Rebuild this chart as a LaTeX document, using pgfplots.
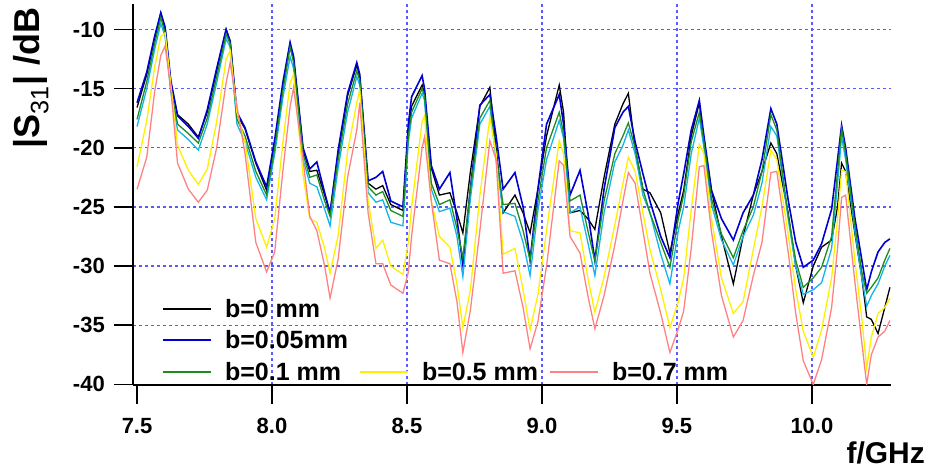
\documentclass[border=0pt]{standalone}
\usepackage{fontspec}
\setmainfont{Liberation Sans}
\usepackage{pgfplots}
\pgfplotsset{compat=1.18}
\usepackage{pgfplotstable}
\definecolor{colK}{RGB}{0,0,0}
\definecolor{colB}{RGB}{0,0,210}
\definecolor{colG}{RGB}{30,140,30}
\definecolor{colC}{RGB}{20,180,235}
\definecolor{colY}{RGB}{255,240,0}
\definecolor{colP}{RGB}{255,130,130}
\definecolor{gridc}{RGB}{90,90,255}
\pgfplotstableread{
f K B G C Y P
7.500 -16.6 -16.2 -17.6 -18.2 -21.6 -23.5
7.536 -13.8 -13.6 -14.4 -15.0 -17.7 -20.8
7.565 -10.8 -10.6 -11.2 -11.7 -13.2 -15.3
7.588 -8.6 -8.6 -9.0 -9.5 -10.6 -12.2
7.604 -10.0 -9.8 -10.3 -10.6 -10.3 -11.4
7.625 -14.5 -14.3 -15.0 -15.3 -14.6 -15.0
7.650 -17.2 -17.3 -18.0 -18.5 -19.8 -21.3
7.690 -18.0 -18.2 -18.8 -19.3 -21.9 -23.5
7.727 -19.1 -19.2 -19.6 -20.2 -23.1 -24.6
7.760 -17.0 -16.8 -17.5 -18.0 -21.8 -23.6
7.795 -13.5 -13.3 -14.0 -14.5 -17.8 -20.0
7.830 -10.0 -10.0 -10.4 -10.8 -12.5 -14.5
7.845 -11.0 -11.0 -11.2 -11.5 -11.8 -12.8
7.870 -17.2 -17.0 -17.6 -18.0 -17.0 -16.5
7.900 -18.4 -18.3 -19.0 -19.5 -19.5 -20.5
7.940 -21.3 -21.2 -22.0 -22.5 -26.0 -28.0
7.980 -23.6 -23.3 -24.0 -24.4 -28.4 -30.5
8.010 -19.5 -19.3 -20.0 -20.5 -26.0 -28.8
8.040 -14.8 -14.5 -15.2 -15.8 -19.6 -22.0
8.067 -11.2 -11.1 -11.5 -12.3 -14.5 -16.5
8.080 -12.5 -12.3 -12.8 -13.3 -13.8 -14.9
8.115 -20.2 -20.0 -20.5 -21.0 -22.3 -21.0
8.140 -22.0 -21.8 -22.5 -23.0 -26.0 -25.8
8.166 -21.9 -21.2 -22.3 -23.3 -26.3 -27.0
8.195 -24.0 -23.8 -24.5 -25.2 -28.5 -30.0
8.215 -25.5 -25.5 -25.8 -26.6 -30.6 -32.7
8.245 -20.5 -20.2 -21.0 -21.7 -27.4 -29.4
8.280 -15.6 -15.4 -16.3 -17.0 -20.3 -22.5
8.314 -13.0 -12.8 -13.5 -14.0 -16.2 -18.5
8.325 -14.0 -13.8 -14.3 -14.7 -15.1 -16.2
8.356 -23.0 -22.8 -23.3 -23.8 -24.5 -25.5
8.385 -23.5 -22.5 -24.0 -24.6 -28.5 -29.8
8.410 -23.2 -22.0 -23.7 -24.4 -27.8 -29.8
8.440 -24.8 -24.5 -25.3 -26.3 -30.0 -31.6
8.485 -25.3 -25.0 -25.8 -26.6 -30.7 -32.3
8.505 -18.5 -18.0 -19.0 -19.5 -28.0 -30.5
8.517 -16.5 -15.7 -17.0 -17.5 -25.0 -27.5
8.556 -14.7 -13.9 -15.0 -15.4 -17.8 -20.0
8.565 -15.5 -15.0 -15.6 -16.0 -17.3 -19.1
8.590 -21.7 -21.5 -23.0 -23.5 -24.5 -24.5
8.620 -24.0 -23.5 -24.8 -25.4 -27.5 -29.5
8.659 -23.8 -22.1 -24.4 -25.1 -28.4 -29.8
8.685 -25.5 -26.0 -26.8 -27.5 -31.5 -33.0
8.707 -27.2 -29.9 -29.3 -30.9 -35.2 -37.3
8.735 -22.0 -23.4 -23.5 -24.3 -32.0 -33.7
8.770 -16.5 -16.4 -17.5 -18.0 -24.0 -27.0
8.807 -14.9 -15.5 -16.0 -16.5 -17.4 -19.4
8.830 -20.0 -19.0 -20.5 -21.0 -20.5 -21.0
8.856 -25.5 -23.5 -24.8 -25.4 -29.0 -30.6
8.900 -24.0 -22.1 -24.7 -25.8 -28.5 -30.4
8.930 -25.5 -25.0 -27.0 -28.0 -32.0 -33.5
8.956 -27.2 -29.5 -29.5 -30.8 -35.4 -37.0
8.985 -23.5 -23.5 -24.5 -25.3 -32.4 -34.7
9.017 -19.0 -18.0 -20.0 -21.0 -27.0 -30.0
9.064 -14.7 -15.5 -17.0 -17.7 -19.4 -21.1
9.080 -17.0 -18.0 -18.8 -19.2 -20.5 -21.5
9.104 -25.5 -24.0 -24.5 -25.5 -27.0 -27.5
9.141 -25.3 -21.9 -24.0 -25.0 -27.2 -28.9
9.170 -26.0 -25.5 -27.0 -28.0 -31.0 -32.5
9.196 -26.9 -29.5 -29.6 -30.8 -33.9 -35.3
9.230 -22.5 -23.5 -24.5 -25.5 -30.9 -32.5
9.270 -18.0 -18.3 -20.5 -21.2 -26.5 -28.2
9.300 -16.3 -17.0 -19.0 -19.8 -23.0 -24.5
9.320 -15.4 -16.5 -17.9 -18.5 -20.8 -22.1
9.345 -20.0 -19.5 -20.0 -20.5 -22.0 -23.0
9.374 -23.5 -22.2 -23.5 -24.0 -25.5 -27.0
9.400 -23.8 -24.5 -25.5 -25.5 -28.6 -30.6
9.440 -25.5 -27.5 -28.0 -29.0 -32.0 -34.0
9.474 -28.9 -29.3 -30.1 -31.5 -35.2 -37.3
9.505 -25.5 -24.6 -26.0 -27.0 -33.0 -35.3
9.525 -23.6 -22.2 -24.0 -25.0 -31.0 -33.8
9.553 -19.0 -18.5 -19.5 -20.5 -25.2 -28.5
9.583 -16.2 -16.0 -17.0 -17.5 -19.7 -21.6
9.600 -19.5 -19.0 -19.5 -20.0 -20.5 -21.5
9.628 -23.6 -23.6 -24.3 -24.8 -26.0 -27.1
9.665 -27.5 -26.0 -27.3 -27.8 -31.0 -32.5
9.709 -31.5 -27.8 -29.3 -29.9 -34.0 -36.0
9.745 -27.5 -25.5 -27.0 -27.5 -33.0 -34.6
9.783 -24.0 -24.0 -25.0 -25.7 -28.6 -30.8
9.815 -22.0 -21.0 -22.0 -23.0 -25.0 -28.0
9.848 -19.6 -16.7 -17.2 -18.2 -20.2 -22.1
9.870 -20.5 -18.0 -18.5 -19.0 -21.0 -22.0
9.912 -25.5 -24.4 -25.7 -26.0 -27.3 -28.8
9.940 -30.0 -28.0 -29.5 -30.0 -32.0 -34.0
9.968 -33.1 -30.1 -31.8 -32.4 -35.5 -38.0
10.005 -30.0 -29.5 -31.0 -32.0 -37.7 -40.0
10.036 -28.4 -28.1 -30.1 -31.4 -35.4 -37.9
10.073 -27.8 -25.2 -27.5 -28.5 -31.0 -33.5
10.095 -25.0 -21.0 -22.0 -23.0 -26.0 -28.5
10.110 -21.3 -18.1 -18.4 -19.1 -21.9 -24.2
10.125 -22.0 -20.0 -20.5 -21.0 -22.0 -24.0
10.159 -27.2 -25.9 -26.5 -27.0 -29.5 -31.3
10.185 -31.0 -29.5 -30.5 -31.0 -34.5 -36.5
10.203 -34.3 -32.0 -32.3 -33.4 -38.6 -40.0
10.220 -34.5 -30.5 -31.8 -32.5 -36.0 -37.5
10.245 -35.7 -28.8 -31.0 -31.5 -34.0 -36.0
10.270 -33.5 -28.0 -29.5 -30.0 -33.5 -35.5
10.289 -31.8 -27.7 -28.5 -29.1 -32.7 -34.6
}\data

\begin{document}
\begin{tikzpicture}
\path[use as bounding box] (-133pt,-85pt) rectangle (797pt,385pt);
\begin{axis}[
  at={(0pt,0pt)}, anchor=south west,
  scale only axis, width=758pt, height=381pt,
  xmin=7.485, xmax=10.293, ymin=-40.05, ymax=-7.85,
  axis x line*=bottom, axis y line*=left,
  axis line style={line width=1.5pt, -},
  tick align=outside, major tick length=19pt,
  tick style={line width=1.5pt, black},
  xtick={8,8.5,9,9.5,10}, xticklabels={8.0,8.5,9.0,9.5,10.0},
  extra x ticks={7.5}, extra x tick labels={7.5},
  extra x tick style={grid=none},
  ytick={-40,-35,-30,-25,-20,-15,-10}, yticklabels={-40,-35,-30,-25,-20,-15,-10},
  minor tick num=0,
  grid=major,
  major grid style={line width=1.2pt, dash pattern=on 3pt off 3pt, color=gridc},
  ticklabel style={font=\fontsize{22}{26}\selectfont\bfseries, inner sep=0pt},
  yticklabel style={xshift=-9pt},
  xticklabel style={yshift=-14pt},
  xlabel={f/GHz},
  xlabel style={at={(axis description cs:1.0449,-0.205)}, anchor=base east, inner sep=0pt, font=\fontsize{30}{36}\selectfont\bfseries},
  ylabel={|S\textsubscript{\mdseries 31}| /dB},
  ylabel style={at={(axis description cs:-0.1346,0.806)}, anchor=center, inner sep=0pt, font=\fontsize{36}{40}\selectfont\bfseries},
  legend columns=3,
  legend cell align=left,
  legend style={at={(axis description cs:0.0383,0.226)}, anchor=north west, draw=none, fill=none, inner sep=0pt, outer sep=0pt,
    font=\fontsize{25}{30}\selectfont\bfseries, row sep=12pt, nodes={inner sep=0pt},
    /tikz/every odd column/.append style={column sep=13pt},
    /tikz/every even column/.append style={column sep=11pt}},
]
\addplot[draw=colK, line width=1.3pt, legend image code/.code={\draw[draw=colK, line width=2pt] (0pt,0pt) -- (48pt,0pt);}] table[x=f,y=K]{\data};
\addlegendentry{b=0 mm}
\addlegendimage{empty legend}\addlegendentry{}
\addlegendimage{empty legend}\addlegendentry{}
\addplot[draw=colB, line width=1.6pt, legend image code/.code={\draw[draw=colB, line width=2pt] (0pt,0pt) -- (48pt,0pt);}] table[x=f,y=B]{\data};
\addlegendentry{b=0.05mm}
\addlegendimage{empty legend}\addlegendentry{}
\addlegendimage{empty legend}\addlegendentry{}
\addplot[draw=colC, line width=1.3pt, forget plot] table[x=f,y=C]{\data};
\addplot[draw=colG, line width=1.3pt, legend image code/.code={\draw[draw=colG, line width=2pt] (0pt,0pt) -- (48pt,0pt);}] table[x=f,y=G]{\data};
\addlegendentry{b=0.1 mm}
\addplot[draw=colY, line width=1.3pt, legend image code/.code={\draw[draw=colY, line width=2pt] (0pt,0pt) -- (48pt,0pt);}] table[x=f,y=Y]{\data};
\addlegendentry{b=0.5 mm}
\addplot[draw=colP, line width=1.3pt, legend image code/.code={\draw[draw=colP, line width=2pt] (0pt,0pt) -- (48pt,0pt);}] table[x=f,y=P]{\data};
\addlegendentry{b=0.7 mm}
\end{axis}
\end{tikzpicture}
\end{document}
